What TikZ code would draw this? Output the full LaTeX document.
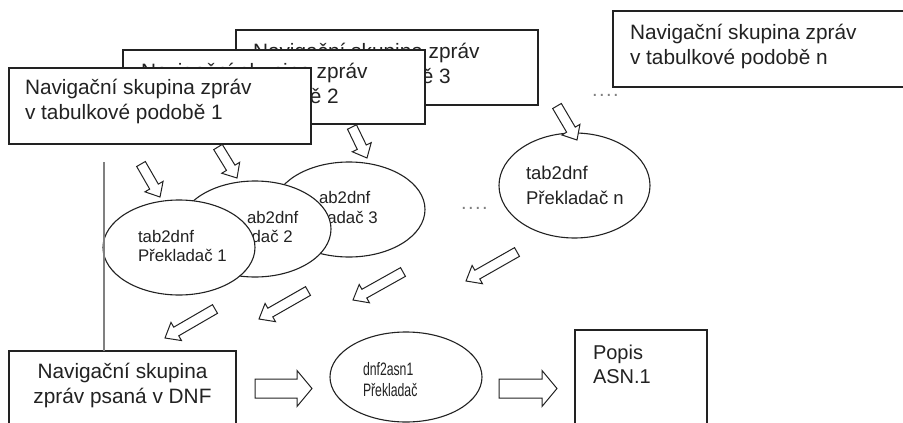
\documentclass[tikz,border=0pt]{standalone}
\usepackage{fontspec}
\setmainfont{Liberation Sans}
\newfontfamily\narrowfont[FakeStretch=0.68]{Liberation Sans}
\usetikzlibrary{shapes.geometric,calc}
\definecolor{ink}{HTML}{222222}
\definecolor{rulegray}{HTML}{808080}
\newcommand{\twoL}[2]{\vtop{\hbox{#1}\hbox{#2}}}
\newcommand{\twoC}[2]{\vtop{\halign{\hfil##\hfil\cr#1\cr#2\cr}}}
% tail, tip, shaft half width, head half width, head length
\newcommand{\blockarrow}[5]{%
  \coordinate (#1-neck) at ($(#2)!#5!(#1)$);
  \draw[barrow] ($(#1)!#3!90:(#2)$) -- ($(#1-neck)!#3!90:(#2)$) -- ($(#1-neck)!#4!90:(#2)$) -- (#2)
     -- ($(#1-neck)!#4!-90:(#2)$) -- ($(#1-neck)!#3!-90:(#2)$) -- ($(#1)!#3!-90:(#2)$) -- cycle;}
\tikzset{
  box/.style={draw=ink, fill=white, line width=1.2pt, rectangle, inner sep=0pt, outer sep=0pt, anchor=north west},
  ell/.style={draw=ink, fill=white, line width=1.1pt, ellipse, inner sep=0pt, outer sep=0pt},
  txt/.style={text=ink, inner sep=0pt, outer sep=0pt, anchor=base west},
  boxtxt/.style={txt, font=\fontsize{20.8}{25}\selectfont},
  elltxt/.style={txt, font=\fontsize{16.8}{19}\selectfont},
  ellntxt/.style={txt, font=\fontsize{18.5}{25.5}\selectfont},
  asntxt/.style={txt, font=\narrowfont\fontsize{18}{21}\selectfont},
  dots/.style={txt, text=rulegray, font=\fontsize{20}{20}\selectfont},
  barrow/.style={draw=ink, fill=white, line width=1pt, line join=miter},
}
\begin{document}
\begin{tikzpicture}[x=1pt,y=-1pt]
\useasboundingbox (0,0) rectangle (903,423);
\clip (0,0) rectangle (903,423);

% stacked input boxes
\node[box, minimum width=302pt, minimum height=75pt] (b3) at (236,30) {};
\node[boxtxt] (t3) at (253,58) {\twoL{Navigační skupina zpráv}{v tabulkové podobě 3}};
\node[box, minimum width=302pt, minimum height=74pt] (b2) at (123,50) {};
\node[boxtxt] (t2) at (141,78) {\twoL{Navigační skupina zpráv}{v tabulkové podobě 2}};
\node[box, minimum width=302pt, minimum height=76pt] (b1) at (9,68) {};
\node[boxtxt] (t1) at (25,94) {\twoL{Navigační skupina zpráv}{v tabulkové podobě 1}};
\node[box, minimum width=300pt, minimum height=76pt] (bn) at (613,11) {};
\node[boxtxt] (tn) at (630,39) {\twoL{Navigační skupina zpráv}{v tabulkové podobě n}};
\node[dots] (dtop) at (592,96) {.\kern1.5pt.\kern1.5pt.\kern1.5pt.};

% translators
\node[ell, minimum width=152pt, minimum height=95pt] (e3) at (349,209.5) {};
\node[elltxt] (e3a) at (319,203) {ab2dnf};
\node[elltxt] (e3b) at (289,223) {Překladač 3};
\node[ell, minimum width=152pt, minimum height=96pt] (e2) at (255,229) {};
\node[elltxt] (e2a) at (247,223) {ab2dnf};
\node[elltxt] (e2b) at (204,242) {Překladač 2};
\node[ell, minimum width=152pt, minimum height=95pt] (e1) at (179,247.5) {};
\node[elltxt] (e1t) at (138,242) {\twoL{tab2dnf}{Překladač 1}};
\node[ell, minimum width=151pt, minimum height=105pt] (en) at (574.5,185.5) {};
\node[ellntxt] (ent) at (526,179) {\twoL{tab2dnf}{Překladač n}};
\node[dots] (dmid) at (461,209) {.\kern1.5pt.\kern1.5pt.\kern1.5pt.};

% block arrows from boxes to translators
\coordinate (a1t) at (141,164); \coordinate (a1h) at (160,197);
\coordinate (a2t) at (218,147); \coordinate (a2h) at (237,178);
\coordinate (a3t) at (352,127); \coordinate (a3h) at (367,158);
\coordinate (ant) at (557,106); \coordinate (anh) at (577,140);
\blockarrow{a1t}{a1h}{5pt}{10.5pt}{12pt}
\blockarrow{a2t}{a2h}{5pt}{10.5pt}{12pt}
\blockarrow{a3t}{a3h}{5pt}{10.5pt}{12pt}
\blockarrow{ant}{anh}{5pt}{10.5pt}{12pt}

% block arrows from translators to DNF
\coordinate (d1t) at (215,309); \coordinate (d1h) at (165,338);
\coordinate (d2t) at (308,291); \coordinate (d2h) at (259,319);
\coordinate (d3t) at (403,272); \coordinate (d3h) at (353,300);
\coordinate (d4t) at (517,252); \coordinate (d4h) at (466,281);
\blockarrow{d1t}{d1h}{5pt}{10.5pt}{13pt}
\blockarrow{d2t}{d2h}{5pt}{10.5pt}{13pt}
\blockarrow{d3t}{d3h}{5pt}{10.5pt}{13pt}
\blockarrow{d4t}{d4h}{5pt}{10.5pt}{13pt}

% bottom row
\node[box, minimum width=227pt, minimum height=80pt] (bd) at (9,351) {};
\node[boxtxt, anchor=base] (bdt) at (122.5,378) {\twoC{Navigační skupina}{zpráv psaná v DNF}};
\coordinate (vtop) at (104,162);
\draw[rulegray, line width=1.2pt] (vtop) -- (vtop |- bd.north);
\node[ell, minimum width=152pt, minimum height=90pt] (ed) at (406,377) {};
\node[asntxt] (edt) at (363,375) {\twoL{dnf2asn1}{Překladač}};
\node[box, minimum width=132pt, minimum height=100pt] (bp) at (575,330) {};
\node[txt, font=\fontsize{20}{24}\selectfont] (bpt) at (593,359) {\twoL{Popis}{ASN.1}};

\coordinate (h1t) at (255,388.5); \coordinate (h1h) at (312,388.5);
\coordinate (h2t) at (499,388.5); \coordinate (h2h) at (557,388.5);
\blockarrow{h1t}{h1h}{9.5pt}{18pt}{15pt}
\blockarrow{h2t}{h2h}{9.5pt}{18pt}{15pt}
\end{tikzpicture}
\end{document}
